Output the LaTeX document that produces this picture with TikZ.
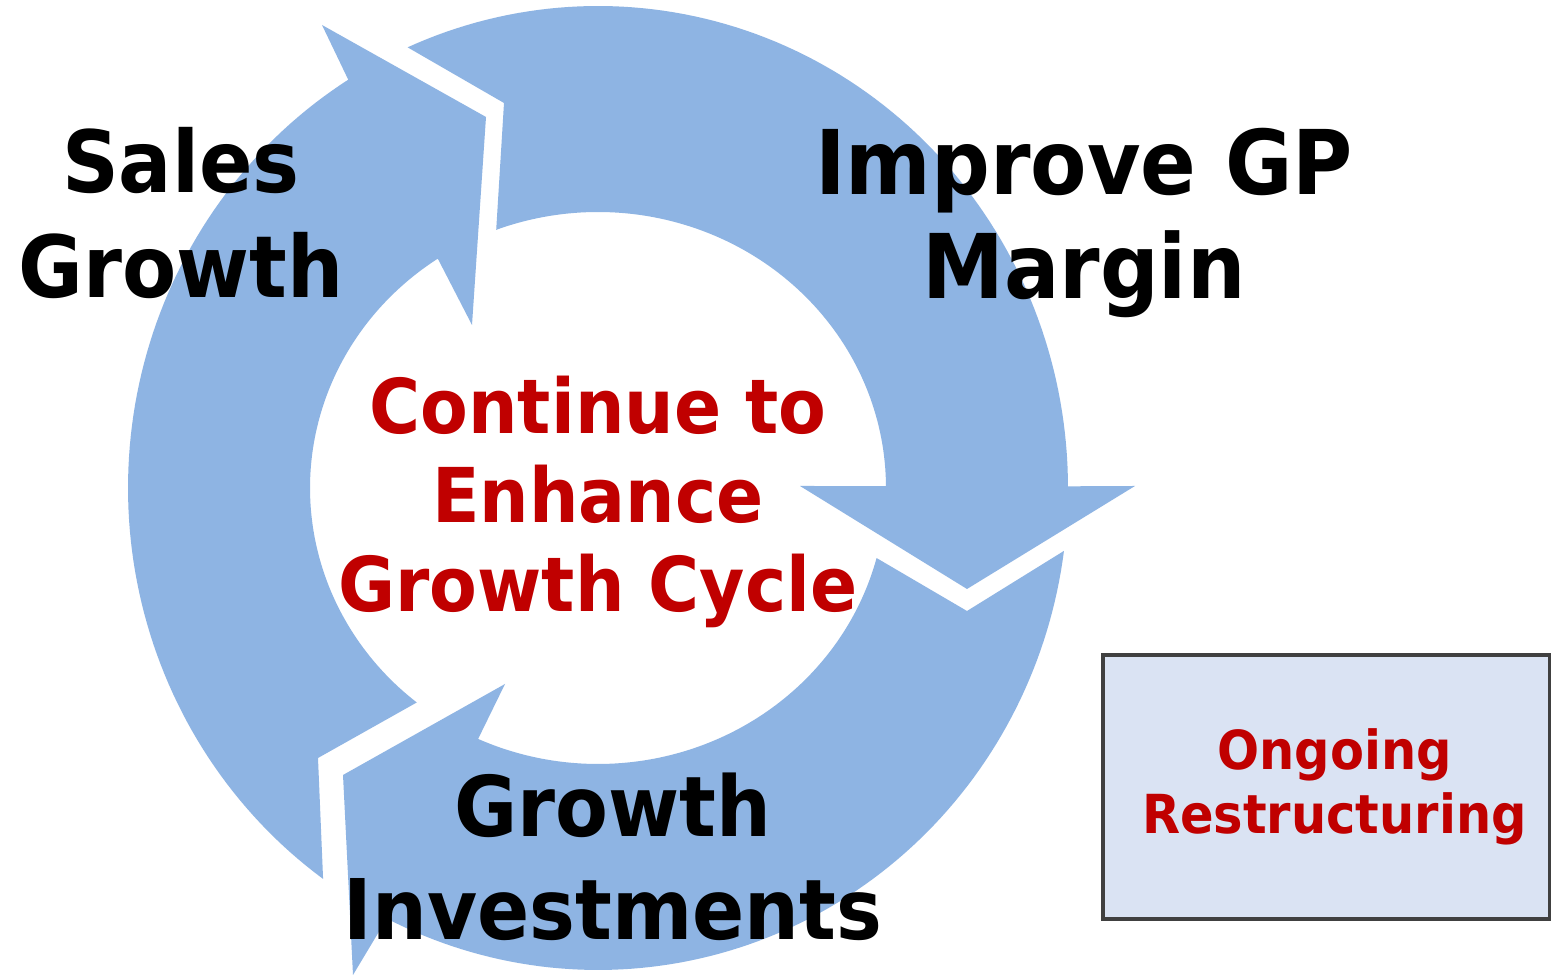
\documentclass[tikz,border=0pt]{standalone}
\usepackage{fontspec}
\setmainfont{DejaVu Sans}
% slightly narrowed face for the labels
\newfontfamily\labelface[FakeStretch=0.92]{DejaVu Sans}
\definecolor{cyclefill}{HTML}{8EB4E3}
\definecolor{deepred}{HTML}{C00000}
\definecolor{boxfill}{HTML}{DAE3F3}
\definecolor{boxline}{HTML}{404040}

\begin{document}
\begin{tikzpicture}[x=0.01cm, y=-0.01cm,
  band/.style={fill=cyclefill, draw=none},
  steplabel/.style={align=center, inner sep=0pt, text=black},
  corelabel/.style={align=center, inner sep=0pt, text=deepred,
    font=\labelface\fontsize{21.5pt}{25.3pt}\selectfont\bfseries},
  notebox/.style={draw=boxline, line width=1.1pt, fill=boxfill,
    minimum width=4.46cm, minimum height=2.63cm, inner sep=0pt,
    align=center, text=deepred,
    font=\labelface\fontsize{15.3pt}{18.2pt}\selectfont\bfseries}]

\useasboundingbox (0,0) rectangle (1551,977);
\fill[white] (0,0) rectangle (1551,977);

% ring geometry: centre and the outer / inner ellipse radii
\def\ringcx{598}\def\ringcy{488}
\def\outrx{470}\def\outry{482}
\def\inrx{288}\def\inry{276}

% arrow from lower left up to the top (Sales Growth)
\fill[band]
  plot[domain=125.8:237.9, samples=90] ({\ringcx+\outrx*cos(\x)},{\ringcy+\outry*sin(\x)})
  -- (322,25) -- (486,117) -- (472,325)
  -- plot[domain=236.2:129.0, samples=90] ({\ringcx+\inrx*cos(\x)},{\ringcy+\inry*sin(\x)})
  -- (318,758) -- cycle;

% arrow from the top round to the right (Improve GP Margin)
\fill[band]
  plot[domain=246.1:359.8, samples=90] ({\ringcx+\outrx*cos(\x)},{\ringcy+\outry*sin(\x)})
  -- (1135,486) -- (967,589) -- (800,486)
  -- plot[domain=359.6:249.3, samples=90] ({\ringcx+\inrx*cos(\x)},{\ringcy+\inry*sin(\x)})
  -- (504,103) -- cycle;

% arrow from the right down and round to the lower left (Growth Investments)
\fill[band]
  plot[domain=7.5:116.7, samples=90] ({\ringcx+\outrx*cos(\x)},{\ringcy+\outry*sin(\x)})
  -- (353,975) -- (343,775) -- (505,684)
  -- plot[domain=114.6:14.7, samples=90] ({\ringcx+\inrx*cos(\x)},{\ringcy+\inry*sin(\x)})
  -- (967,611) -- cycle;

% labels
\node[steplabel, font=\labelface\fontsize{24.4pt}{29.9pt}\selectfont\bfseries]
  (sales) at (181,213) {Sales\\Growth};
\node[steplabel, font=\labelface\fontsize{25.4pt}{29.3pt}\selectfont\bfseries]
  (margin) at (1084,223) {Improve GP\\Margin};
\node[steplabel, font=\labelface\fontsize{23.8pt}{29.3pt}\selectfont\bfseries]
  (invest) at (613,857) {Growth\\Investments};
\node[corelabel] (core) at (598,502) {Continue to\\Enhance\\Growth Cycle};

% side box, its text sitting a little right of centre
\node[notebox] (restructure) at (1326.5,787) {\hspace*{0.16cm}Ongoing\\\hspace*{0.16cm}Restructuring};
\end{tikzpicture}
\end{document}
